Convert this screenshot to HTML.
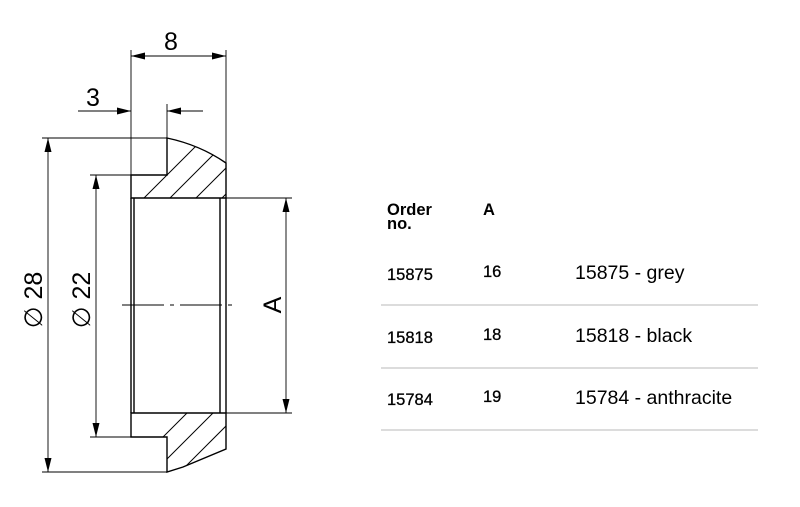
<!DOCTYPE html>
<html><head><style>
html,body{margin:0;padding:0;background:#fff;}
svg{display:block;}
</style></head><body>
<svg width="800" height="507" viewBox="0 0 800 507" xmlns="http://www.w3.org/2000/svg" font-family="Liberation Sans, Arial, sans-serif">
<defs>
<clipPath id="ct"><path d="M131,175 L167,175 L167,138 Q200,145 226,163 L226,198 L131,198 Z"/></clipPath>
<clipPath id="cb"><path d="M131,413 L226,413 L226,449 L183,467 L167,472 L167,437 L131,437 Z"/></clipPath>
<marker id="ar" viewBox="0 0 14 7" refX="14" refY="3.5" markerWidth="14" markerHeight="7" orient="auto" markerUnits="userSpaceOnUse"><path d="M0,0 L14,3.5 L0,7 Z" fill="#000"/></marker>
</defs>
<g stroke="#000" fill="none" stroke-width="1.4">
<path d="M131,198 L131,175 L167,175 L167,138 Q200,145 226,163 L226,198 Z"/>
<path d="M131,413 L131,437 L167,437 L167,472 L183,467 L226,449 L226,413 Z"/>
<line x1="131" y1="198" x2="131" y2="413"/>
<line x1="134" y1="198" x2="134" y2="413"/>
<line x1="220" y1="198" x2="220" y2="413"/>
<line x1="226" y1="198" x2="226" y2="413"/>
</g>
<g stroke="#000" stroke-width="1" clip-path="url(#ct)">
<line x1="131" y1="211" x2="211" y2="131"/>
<line x1="157" y1="211" x2="237" y2="131"/>
<line x1="183" y1="211" x2="263" y2="131"/>
<line x1="209" y1="211" x2="289" y2="131"/>
</g>
<g stroke="#000" stroke-width="1" clip-path="url(#cb)">
<line x1="120" y1="480" x2="200" y2="400"/>
<line x1="146" y1="480" x2="226" y2="400"/>
<line x1="172" y1="480" x2="252" y2="400"/>
<line x1="198" y1="480" x2="278" y2="400"/>
</g>
<g stroke="#000" stroke-width="0.9" fill="none">
<line x1="131" y1="50" x2="131" y2="175"/>
<line x1="226" y1="50" x2="226" y2="163"/>
<line x1="167" y1="104" x2="167" y2="138"/>
<line x1="42" y1="138" x2="167" y2="138"/>
<line x1="90" y1="175" x2="131" y2="175"/>
<line x1="90" y1="437" x2="131" y2="437"/>
<line x1="42" y1="472" x2="167" y2="472"/>
<line x1="226" y1="198" x2="292" y2="198"/>
<line x1="226" y1="413" x2="292" y2="413"/>
<line x1="178" y1="56" x2="131" y2="56" marker-end="url(#ar)"/>
<line x1="178" y1="56" x2="226" y2="56" marker-end="url(#ar)"/>
<line x1="78" y1="111" x2="131" y2="111" marker-end="url(#ar)"/>
<line x1="203" y1="111" x2="167" y2="111" marker-end="url(#ar)"/>
<line x1="48" y1="300" x2="48" y2="138" marker-end="url(#ar)"/>
<line x1="48" y1="300" x2="48" y2="472" marker-end="url(#ar)"/>
<line x1="96" y1="300" x2="96" y2="175" marker-end="url(#ar)"/>
<line x1="96" y1="300" x2="96" y2="437" marker-end="url(#ar)"/>
<line x1="286" y1="300" x2="286" y2="198" marker-end="url(#ar)"/>
<line x1="286" y1="300" x2="286" y2="413" marker-end="url(#ar)"/>
<line x1="122" y1="305" x2="233" y2="305" stroke-dasharray="42,6,4,6"/>
</g>
<g font-size="25" fill="#000">
<text x="164" y="50">8</text>
<text x="86" y="106">3</text>
<text transform="translate(42,300) rotate(-90)" text-anchor="middle">∅ 28</text>
<text transform="translate(90,300) rotate(-90)" text-anchor="middle">∅ 22</text>
<text transform="translate(281,305) rotate(-90)" text-anchor="middle">A</text>
</g>
<g fill="#000" font-size="16.5">
<text x="387" y="215" font-weight="bold">Order</text>
<text x="387" y="229" font-weight="bold">no.</text>
<text x="483" y="215" font-weight="bold">A</text>
<text x="387" y="280" stroke="#000" stroke-width="0.3">15875</text>
<text x="483" y="277" stroke="#000" stroke-width="0.3">16</text>
<text x="575" y="279" font-size="19.5">15875 - grey</text>
<text x="387" y="343" stroke="#000" stroke-width="0.3">15818</text>
<text x="483" y="340" stroke="#000" stroke-width="0.3">18</text>
<text x="575" y="342" font-size="19.5">15818 - black</text>
<text x="387" y="405" stroke="#000" stroke-width="0.3">15784</text>
<text x="483" y="402" stroke="#000" stroke-width="0.3">19</text>
<text x="575" y="404" font-size="19.5">15784 - anthracite</text>
</g>
<g stroke="#c8c8c8" stroke-width="1.3">
<line x1="381" y1="305" x2="758" y2="305"/>
<line x1="381" y1="368" x2="758" y2="368"/>
<line x1="381" y1="430" x2="758" y2="430"/>
</g>
</svg>
</body></html>
